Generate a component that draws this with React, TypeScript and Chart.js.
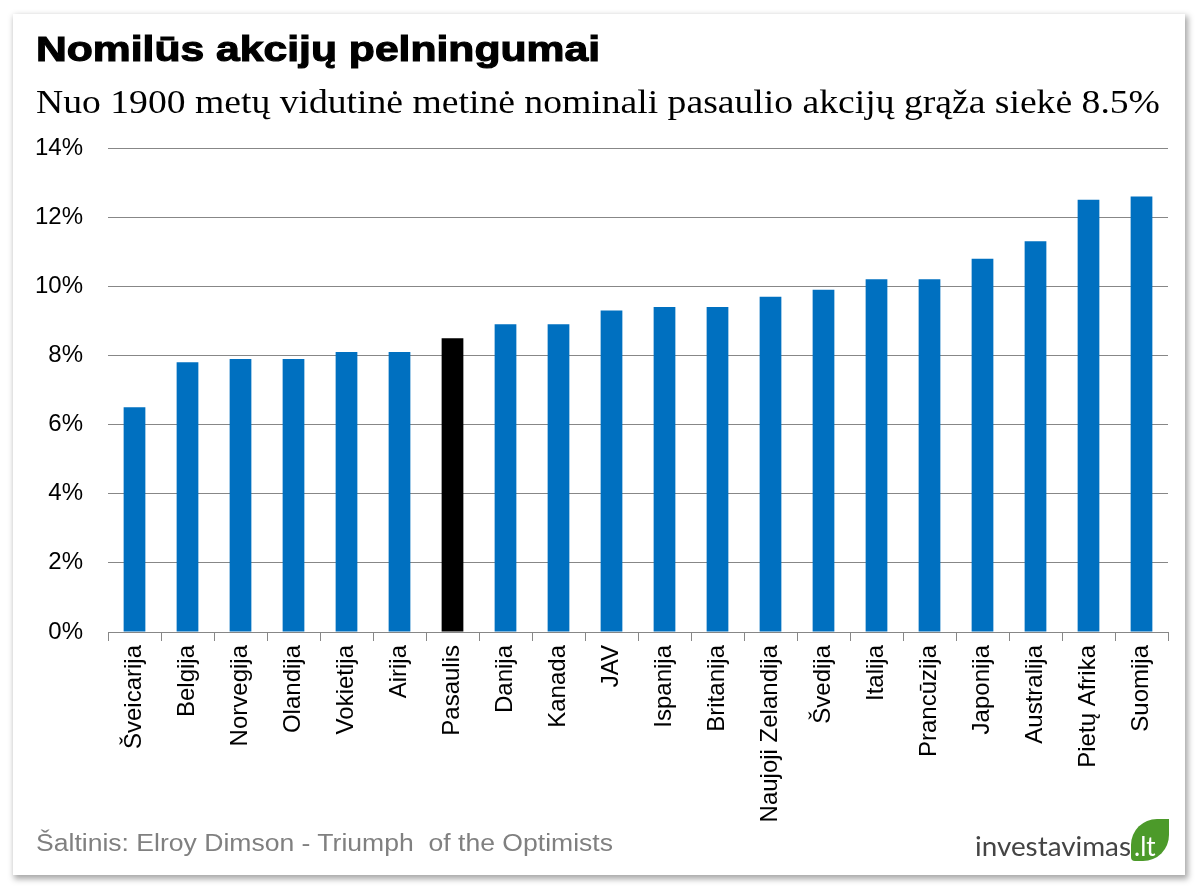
import React, { useEffect, useLayoutEffect, useRef } from "react";
import { Chart, registerables } from "chart.js";

Chart.register(...registerables);

const categories = [
  "Šveicarija", "Belgija", "Norvegija", "Olandija", "Vokietija", "Airija", "Pasaulis",
  "Danija", "Kanada", "JAV", "Ispanija", "Britanija", "Naujoji Zelandija", "Švedija",
  "Italija", "Prancūzija", "Japonija", "Australija", "Pietų Afrika", "Suomija",
];
const returns = [6.5, 7.8, 7.9, 7.9, 8.1, 8.1, 8.5, 8.9, 8.9, 9.3, 9.4, 9.4, 9.7, 9.9, 10.2, 10.2, 10.8, 11.3, 12.5, 12.6];
const highlightCategory = "Pasaulis";
const yTicks = [0, 2, 4, 6, 8, 10, 12, 14];

const titleText = "Nomilūs akcijų pelningumai";
const subtitleText = "Nuo 1900 metų vidutinė metinė nominali pasaulio akcijų grąža siekė 8.5%";
const sourceText = "Šaltinis: Elroy Dimson - Triumph  of the Optimists";
const logoText = "investavimas";
const logoTld = ".lt";

const BLUE = "#0070C0";
const BLACK = "#000000";
const GRID = "#878787";

function FitText(props: { text: string; width: number; style: React.CSSProperties }) {
  const ref = useRef<HTMLSpanElement>(null);
  useLayoutEffect(() => {
    const fit = () => {
      const el = ref.current;
      if (!el) return;
      el.style.transform = "none";
      const w = el.getBoundingClientRect().width;
      if (w > 0) el.style.transform = `scaleX(${props.width / w})`;
    };
    fit();
    if ((document as any).fonts && (document as any).fonts.ready) {
      (document as any).fonts.ready.then(fit);
    }
  }, [props.text, props.width]);
  return (
    <span
      ref={ref}
      style={{
        position: "absolute",
        whiteSpace: "pre",
        display: "inline-block",
        transformOrigin: "0 0",
        lineHeight: 1,
        ...props.style,
      }}
    >
      {props.text}
    </span>
  );
}

function BarChart() {
  const canvasRef = useRef<HTMLCanvasElement>(null);
  useEffect(() => {
    if (!canvasRef.current) return;
    const colors = categories.map((c) => (c === highlightCategory ? BLACK : BLUE));
    const chart = new Chart(canvasRef.current, {
      type: "bar",
      data: {
        labels: categories,
        datasets: [
          {
            data: returns,
            backgroundColor: colors,
            borderWidth: 0,
            barPercentage: 0.41,
            categoryPercentage: 1,
          },
        ],
      },
      options: {
        animation: false,
        responsive: true,
        maintainAspectRatio: false,
        layout: { padding: { top: 148, right: 32, left: 0, bottom: 0 } },
        plugins: {
          legend: { display: false },
          tooltip: { enabled: false },
          title: { display: false },
        },
        scales: {
          x: {
            offset: true,
            afterFit: (s: any) => {
              s.height = 258;
            },
            grid: {
              display: true,
              offset: true,
              drawOnChartArea: false,
              drawTicks: true,
              tickLength: 9,
              color: GRID,
              lineWidth: 1,
            },
            border: { display: true, color: GRID, width: 1 },
            ticks: {
              autoSkip: false,
              minRotation: 90,
              maxRotation: 90,
              padding: 4,
              color: "#000",
              font: { family: "'Liberation Sans', Arial, sans-serif", size: 24 },
            },
          },
          y: {
            min: 0,
            max: 14,
            afterFit: (s: any) => {
              s.width = 108;
            },
            afterBuildTicks: (s: any) => {
              s.ticks = yTicks.map((v) => ({ value: v }));
            },
            grid: {
              color: GRID,
              lineWidth: 1,
              drawTicks: false,
            },
            border: { display: false },
            ticks: {
              padding: 25,
              color: "#000",
              font: { family: "'Liberation Sans', Arial, sans-serif", size: 24 },
              callback: (v: any) => `${v}%`,
            },
          },
        },
      },
    });
    return () => chart.destroy();
  }, []);
  return (
    <div style={{ position: "absolute", left: 0, top: 0, width: 1200, height: 890 }}>
      <canvas ref={canvasRef} />
    </div>
  );
}

export default function App() {
  return (
    <div
      style={{
        position: "absolute",
        left: 0,
        top: 0,
        width: 1200,
        height: 890,
        overflow: "hidden",
        background: "#fff",
      }}
    >
      <div
        style={{
          position: "absolute",
          left: 13,
          top: 14,
          width: 1172,
          height: 861,
          background: "#fff",
          boxShadow: "2px 3px 6px 1px rgba(0,0,0,0.35)",
        }}
      />
      <BarChart />
      <FitText
        text={titleText}
        width={564}
        style={{
          left: 36,
          top: 31,
          fontFamily: "'Liberation Sans', Arial, sans-serif",
          fontWeight: 700,
          fontSize: 35,
          color: "#000",
          WebkitTextStroke: "1.1px #000",
        }}
      />
      <FitText
        text={subtitleText}
        width={1124}
        style={{
          left: 36,
          top: 85,
          fontFamily: "'Liberation Serif', 'Times New Roman', serif",
          fontSize: 34,
          color: "#000",
        }}
      />
      <FitText
        text={sourceText}
        width={577}
        style={{
          left: 36,
          top: 832,
          fontFamily: "'Liberation Sans', Arial, sans-serif",
          fontSize: 23,
          color: "#808080",
        }}
      />
      <FitText
        text={logoText}
        width={156}
        style={{
          left: 975,
          top: 832,
          fontFamily: "Lato, 'Open Sans', sans-serif",
          fontSize: 27,
          color: "#444",
        }}
      />
      <div
        style={{
          position: "absolute",
          left: 1131,
          top: 819,
          width: 38,
          height: 42,
          background: "#4c9a2a",
          borderRadius: "26px 0 26px 4px",
        }}
      />
      <span
        style={{
          position: "absolute",
          left: 1134,
          top: 833,
          fontFamily: "Lato, 'Open Sans', sans-serif",
          fontSize: 26,
          lineHeight: 1,
          color: "#fff",
        }}
      >
        {logoTld}
      </span>
    </div>
  );
}
